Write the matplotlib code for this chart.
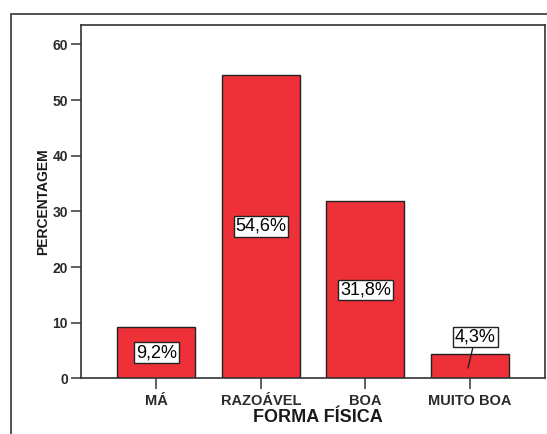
import matplotlib.pyplot as plt
from matplotlib.patches import Rectangle

categories = ["MÁ", "RAZOÁVEL", "BOA", "MUITO BOA"]
percentages = [9.2, 54.6, 31.8, 4.3]
labels = ["9,2%", "54,6%", "31,8%", "4,3%"]

plt.rcParams['font.family'] = ['Liberation Sans', 'DejaVu Sans']

W, H = 547, 434
fig = plt.figure(figsize=(W / 100, H / 100), dpi=100)
ax = fig.add_axes([81 / W, 1 - 378.3 / H, 464 / W, 353.3 / H])

# outer frame (SPSS chart border), runs off the right and bottom edges
frame = Rectangle((11 / W, -0.05), 1.1, 1 - 14 / H + 0.05, transform=fig.transFigure,
                  fill=False, edgecolor="#444444", linewidth=1.3, clip_on=False)
fig.add_artist(frame)

x = range(len(categories))
ax.bar(x, percentages, width=0.745, color="#ee3138", edgecolor="#222222", linewidth=1.0)

ax.set_xlim(-0.719, 3.716)
ax.set_ylim(0, 63.5)
ax.set_yticks([0, 10, 20, 30, 40, 50, 60])
ax.set_xticks(list(x))
ax.set_xticklabels(categories, fontsize=10.5, fontweight="bold", color="#2a2a2a")
for t in ax.get_yticklabels():
    t.set_fontsize(10)
    t.set_fontweight("bold")
    t.set_color("#2a2a2a")
ax.tick_params(axis="y", direction="out", length=7.5, width=1.1, color="#333333", pad=2)
ax.tick_params(axis="x", direction="out", length=8, width=1.1, color="#333333", pad=3)

for s in ax.spines.values():
    s.set_linewidth(1.2)
    s.set_color("#333333")

ax.set_ylabel("PERCENTAGEM", fontsize=10, fontweight="bold", color="#1a1a1a")
ax.yaxis.set_label_coords(-0.082, 0.5)
ax.yaxis.label.set_va("center")
ax.set_xlabel("FORMA FÍSICA", fontsize=13, fontweight="bold", color="#1a1a1a")
ax.xaxis.set_label_coords(0.51, -0.112)
ax.xaxis.label.set_va("center")

box = dict(boxstyle="square,pad=0.1", facecolor="white", edgecolor="#222222", linewidth=1.0)
for i, (v, lab) in enumerate(zip(percentages, labels)):
    if v < 6:
        ax.annotate(lab, xy=(i - 0.02, v / 2 - 0.3), xytext=(i + 0.05, 7.4), ha="center", va="center",
                    fontsize=13, bbox=box,
                    arrowprops=dict(arrowstyle="-", color="#222222", lw=1.0, shrinkA=0, shrinkB=0))
    else:
        ax.text(i, v / 2, lab, ha="center", va="center", fontsize=13, bbox=box)

fig.savefig("out.png", dpi=100)
